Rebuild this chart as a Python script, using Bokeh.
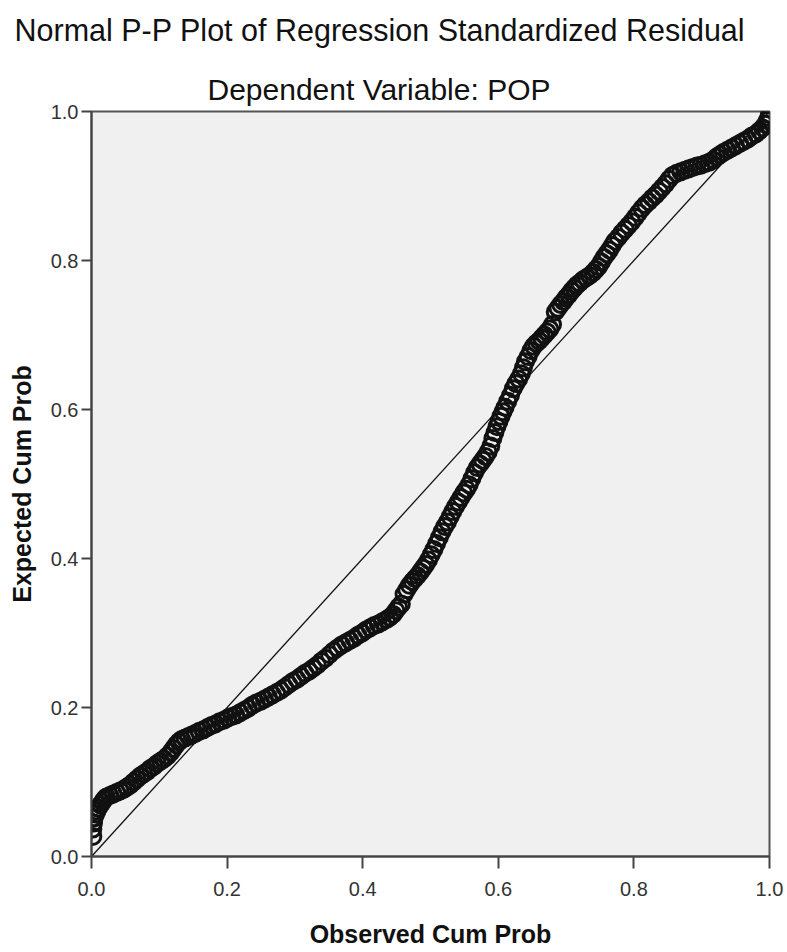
from bokeh.plotting import figure
from bokeh.models import Range1d, FixedTicker, Title
from bokeh.layouts import column
from bokeh.embed import file_html
from bokeh.resources import INLINE

# Observed / expected cumulative probabilities
obs_cum_prob = [
    0.002, 0.002, 0.003, 0.004, 0.006, 0.008, 0.010, 0.013, 0.016, 0.019,
    0.022, 0.027, 0.032, 0.037, 0.042, 0.047, 0.052, 0.057, 0.062, 0.067,
    0.072, 0.077, 0.082, 0.087, 0.092, 0.097, 0.102, 0.107, 0.112, 0.117,
    0.121, 0.125, 0.129, 0.133, 0.138, 0.143, 0.148, 0.153, 0.159, 0.165,
    0.171, 0.177, 0.183, 0.189, 0.195, 0.201,
    0.207, 0.213, 0.219, 0.225, 0.231, 0.237, 0.243, 0.249, 0.255, 0.261,
    0.267, 0.273, 0.279, 0.285, 0.291, 0.297, 0.303, 0.309, 0.315, 0.321,
    0.327, 0.333, 0.339, 0.345, 0.351, 0.357, 0.363, 0.369, 0.375, 0.381,
    0.387, 0.393, 0.399, 0.405, 0.411, 0.417, 0.423, 0.429, 0.435, 0.440,
    0.445, 0.449, 0.453, 0.457,
    0.461, 0.465, 0.469, 0.473, 0.477, 0.481, 0.485, 0.489, 0.493, 0.497,
    0.501, 0.505, 0.509, 0.513, 0.517, 0.521, 0.525, 0.529, 0.533, 0.537,
    0.541, 0.545, 0.549, 0.553, 0.557, 0.561, 0.565, 0.569, 0.573, 0.577,
    0.581, 0.585, 0.589, 0.592, 0.595, 0.598, 0.601, 0.604, 0.607, 0.610,
    0.614, 0.618, 0.622, 0.626, 0.630, 0.634, 0.637, 0.640, 0.644, 0.648,
    0.652, 0.656, 0.660, 0.664, 0.668, 0.672, 0.676, 0.680,
    0.684, 0.688, 0.692, 0.696, 0.700, 0.704, 0.708, 0.712, 0.716, 0.720,
    0.725, 0.730, 0.735, 0.740, 0.744, 0.748, 0.752, 0.756, 0.760, 0.764,
    0.768, 0.772, 0.777, 0.782, 0.787, 0.792, 0.797, 0.802, 0.807, 0.812,
    0.817, 0.822, 0.827, 0.832, 0.837, 0.842, 0.847, 0.852, 0.857, 0.863,
    0.869, 0.875, 0.881, 0.887, 0.893, 0.899, 0.905, 0.911, 0.917, 0.922,
    0.927, 0.932, 0.938, 0.944, 0.950, 0.956, 0.962, 0.968, 0.974, 0.980,
    0.985, 0.990, 0.994, 0.997, 0.999, 1.000,
]
exp_cum_prob = [
    0.027, 0.037, 0.045, 0.052, 0.057, 0.061, 0.065, 0.069, 0.073, 0.077,
    0.080, 0.082, 0.084, 0.086, 0.088, 0.090, 0.093, 0.096, 0.100, 0.104,
    0.108, 0.111, 0.114, 0.118, 0.121, 0.125, 0.128, 0.131, 0.135, 0.140,
    0.145, 0.150, 0.154, 0.157, 0.159, 0.161, 0.163, 0.165, 0.168, 0.170,
    0.173, 0.176, 0.178, 0.181, 0.183, 0.186,
    0.188, 0.190, 0.193, 0.196, 0.199, 0.203, 0.206, 0.208, 0.211, 0.214,
    0.217, 0.220, 0.223, 0.227, 0.231, 0.235, 0.238, 0.242, 0.246, 0.249,
    0.253, 0.257, 0.262, 0.266, 0.271, 0.276, 0.280, 0.284, 0.287, 0.290,
    0.293, 0.297, 0.300, 0.304, 0.307, 0.310, 0.312, 0.315, 0.318, 0.321,
    0.325, 0.330, 0.335, 0.339,
    0.352, 0.358, 0.364, 0.369, 0.373, 0.377, 0.382, 0.387, 0.392, 0.398,
    0.405, 0.412, 0.420, 0.428, 0.436, 0.443, 0.449, 0.456, 0.463, 0.470,
    0.476, 0.482, 0.488, 0.493, 0.499, 0.507, 0.515, 0.522, 0.527, 0.532,
    0.537, 0.543, 0.551, 0.561, 0.569, 0.577, 0.584, 0.591, 0.597, 0.603,
    0.611, 0.619, 0.628, 0.635, 0.641, 0.648, 0.656, 0.664, 0.671, 0.679,
    0.685, 0.689, 0.692, 0.696, 0.700, 0.704, 0.708, 0.714,
    0.731, 0.736, 0.741, 0.745, 0.750, 0.754, 0.759, 0.763, 0.767, 0.770,
    0.774, 0.777, 0.780, 0.784, 0.788, 0.792, 0.798, 0.804, 0.809, 0.814,
    0.820, 0.826, 0.831, 0.837, 0.842, 0.847, 0.852, 0.858, 0.864, 0.870,
    0.875, 0.879, 0.884, 0.888, 0.893, 0.898, 0.903, 0.909, 0.914, 0.917,
    0.919, 0.921, 0.923, 0.925, 0.927, 0.928, 0.930, 0.932, 0.935, 0.939,
    0.942, 0.945, 0.948, 0.951, 0.954, 0.957, 0.960, 0.963, 0.967, 0.970,
    0.974, 0.978, 0.983, 0.988, 0.992, 0.996,
]

ref_x = [0.0, 1.0]
ref_y = [0.0, 1.0]

tick_values = [0.0, 0.2, 0.4, 0.6, 0.8, 1.0]
tick_labels = ["0.0", "0.2", "0.4", "0.6", "0.8", "1.0"]

title_text = "Normal P-P Plot of Regression Standardized Residual"
subtitle_text = "Dependent Variable: POP"
x_label = "Observed Cum Prob"
y_label = "Expected Cum Prob"

FONT = "Liberation Sans"
FRAME_LEFT = 91
FRAME_RIGHT_PAD = 16
STRIP_H = 63

# ---- title strip (a figure whose only visible content is its title) ----
t = figure(width=785, height=STRIP_H, x_range=Range1d(0, 1), y_range=Range1d(0, 1),
           output_backend="svg", toolbar_location=None,
           x_axis_location=None, y_axis_location=None,
           min_border_left=FRAME_LEFT, min_border_right=FRAME_RIGHT_PAD,
           min_border_top=0, min_border_bottom=0)
t.outline_line_color = None
t.grid.visible = False
t.background_fill_color = "white"
t.border_fill_color = "white"
t.add_layout(Title(text=title_text, align="left", offset=-77,
                   text_font=FONT, text_font_size="30.5px",
                   text_font_style="normal", text_color="#111111",
                   standoff=25, vertical_align="top"), "above")

# ---- main plot ---------------------------------------------------------
p = figure(width=785, height=950 - STRIP_H,
           x_range=Range1d(0, 1), y_range=Range1d(0, 1),
           output_backend="svg", toolbar_location=None,
           min_border_left=FRAME_LEFT, min_border_right=FRAME_RIGHT_PAD,
           min_border_top=48, min_border_bottom=88)

p.add_layout(Title(text=subtitle_text, align="left", offset=116,
                   text_font=FONT, text_font_size="30px",
                   text_font_style="normal", text_color="#111111",
                   standoff=12, vertical_align="bottom"), "above")

p.background_fill_color = "#f0f0f0"
p.border_fill_color = "white"
p.outline_line_color = "#555555"
p.outline_line_width = 2
p.grid.visible = False

for ax in (p.xaxis, p.yaxis):
    ax.ticker = FixedTicker(ticks=tick_values)
    ax.major_label_overrides = {v: l for v, l in zip(tick_values, tick_labels)}
    ax.axis_line_color = "#444444"
    ax.axis_line_width = 2
    ax.major_tick_line_color = "#444444"
    ax.major_tick_line_width = 2
    ax.minor_tick_line_color = None
    ax.major_tick_in = 0
    ax.major_label_text_font = FONT
    ax.major_label_text_font_size = "20px"
    ax.major_label_text_color = "#333333"
    ax.axis_label_text_font = FONT
    ax.axis_label_text_font_size = "25px"
    ax.axis_label_text_font_style = "bold"
    ax.axis_label_text_color = "#111111"

p.xaxis.major_tick_out = 12
p.yaxis.major_tick_out = 10
p.xaxis.major_label_standoff = 13
p.yaxis.major_label_standoff = 3
p.xaxis.axis_label = x_label
p.yaxis.axis_label = y_label
p.xaxis.axis_label_standoff = 21
p.yaxis.axis_label_standoff = 12

p.line(ref_x, ref_y, line_color="#111111", line_width=1.3)
p.scatter(obs_cum_prob, exp_cum_prob, marker="circle", size=16,
          fill_alpha=0, line_color="#111111", line_width=3)

layout = column(t, p, spacing=0)
open("out.html", "w").write(file_html(layout, INLINE))
